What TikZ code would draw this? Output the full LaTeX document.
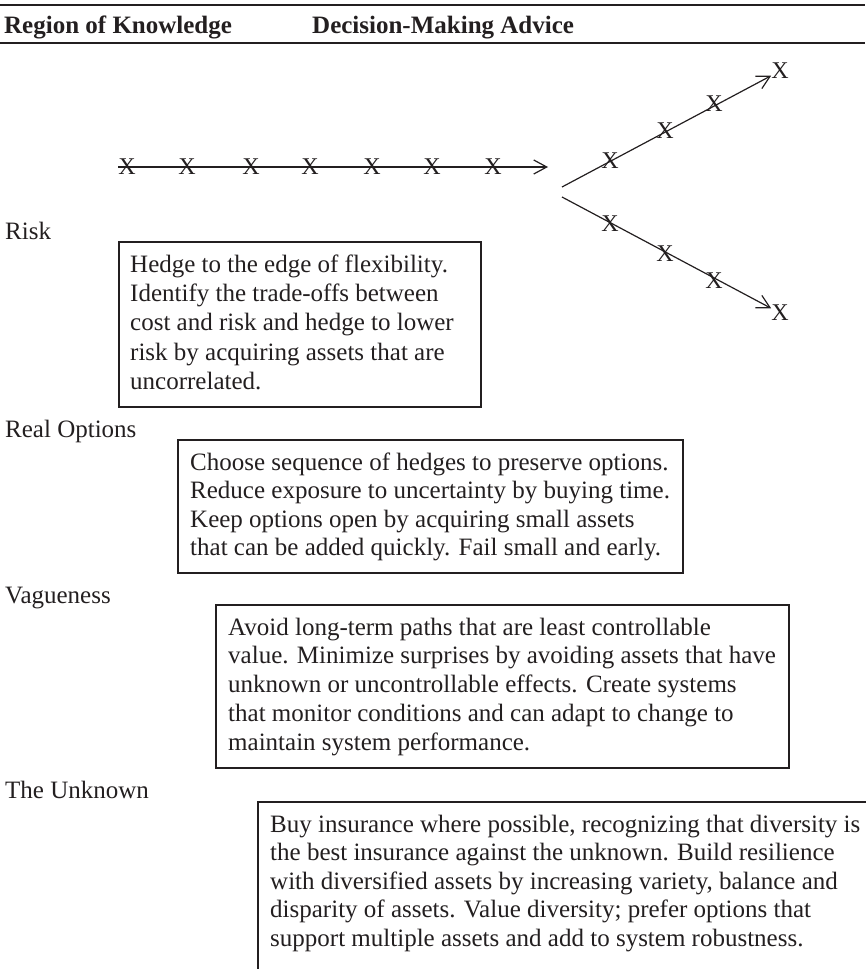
\documentclass[tikz,border=0pt]{standalone}
\usepackage{fontspec}
\setmainfont{Liberation Serif}
\usetikzlibrary{arrows.meta}
\definecolor{ink}{RGB}{35,31,32}
\newcommand{\fst}{\rule{0pt}{20pt}}
\begin{document}
\begin{tikzpicture}[x=1pt,y=-1pt,
  every node/.style={inner sep=0pt, text=ink},
  lbl/.style={anchor=base west, font=\fontsize{25pt}{30pt}\selectfont},
  hdr/.style={anchor=base west, font=\fontsize{25pt}{30pt}\selectfont\bfseries},
  boxtext/.style={anchor=north west, align=left},
  frame/.style={draw=ink, line width=1.1pt},
  rulestyle/.style={draw=ink, line width=1.5pt},
  xmark/.style={font=\fontsize{24pt}{28pt}\selectfont},
  conn/.style={draw=ink, line width=1.2pt, -{Straight Barb[length=13pt,width=14pt]}},
]
\useasboundingbox (0,0) rectangle (865,969);

% header
\coordinate (r1a) at (0,5);   \coordinate (r1b) at (865,5);
\coordinate (r2a) at (0,43);  \coordinate (r2b) at (865,43);
\draw[rulestyle] (r1a) -- (r1b);
\draw[rulestyle] (r2a) -- (r2b);
\node[hdr] (hreg) at (4,33) {Region of Knowledge};
\node[hdr] (hdec) at (312,33) {Decision-Making Advice};

% horizontal chain
\foreach \i/\x in {1/127,2/187,3/251,4/310,5/372,6/432,7/493}
  \node[xmark] (hx\i) at (\x,167) {X};
\coordinate (htip) at (548,167);
\draw[conn] (hx1.west) -- (htip);

% branches
\coordinate (u0) at (562,187);
\coordinate (l0) at (562,197);
\node[xmark] (xu) at (780,71) {X};
\node[xmark] (xl) at (780,313) {X};
\draw[conn] (u0) -- (xu);
\draw[conn] (l0) -- (xl);
\foreach \i/\x/\y in {1/610/160.7,2/665/130.6,3/714/103.7}
  \node[xmark] (ux\i) at (\x,\y) {X};
\foreach \i/\x/\y in {1/610/223.3,2/665/253.4,3/714/280.3}
  \node[xmark] (lx\i) at (\x,\y) {X};

% labels
\node[lbl] (lrisk) at (5,239) {Risk};
\node[lbl] (lreal) at (5,437) {Real Options};
\node[lbl] (lvag) at (5,603) {Vagueness};
\node[lbl] (lunk) at (5,798) {The Unknown};

% box 1
\coordinate (b1a) at (119,242); \coordinate (b1b) at (481,407);
\draw[frame] (b1a) rectangle (b1b);
\node[boxtext, font=\fontsize{25pt}{29.3pt}\selectfont] (t1) at (130,252)
 {\fst Hedge to the edge of flexibility.\\
  Identify the trade-offs between\\
  cost and risk and hedge to lower\\
  risk by acquiring assets that are\\
  uncorrelated.};

% box 2
\coordinate (b2a) at (178,440); \coordinate (b2b) at (683,573);
\draw[frame] (b2a) rectangle (b2b);
\node[boxtext, font=\fontsize{25pt}{28.5pt}\selectfont] (t2) at (190,450)
 {\fst Choose sequence of hedges to preserve options.\\
  Reduce exposure to uncertainty by buying time.\\
  Keep options open by acquiring small assets\\
  that can be added quickly. Fail small and early.};

% box 3
\coordinate (b3a) at (216,605); \coordinate (b3b) at (789,768);
\draw[frame] (b3a) rectangle (b3b);
\node[boxtext, font=\fontsize{25pt}{28.7pt}\selectfont] (t3) at (228,615)
 {\fst Avoid long-term paths that are least controllable\\
  value. Minimize surprises by avoiding assets that have\\
  unknown or uncontrollable effects. Create systems\\
  that monitor conditions and can adapt to change to\\
  maintain system performance.};

% box 4 (open to the right and bottom)
\coordinate (b4r) at (870,802); \coordinate (b4a) at (258,802); \coordinate (b4d) at (258,975);
\draw[frame] (b4r) -- (b4a) -- (b4d);
\node[boxtext, font=\fontsize{25pt}{28.5pt}\selectfont] (t4) at (270,812)
 {\fst Buy insurance where possible, recognizing that diversity is\\
  the best insurance against the unknown. Build resilience\\
  with diversified assets by increasing variety, balance and\\
  disparity of assets. Value diversity; prefer options that\\
  support multiple assets and add to system robustness.};
\end{tikzpicture}
\end{document}
